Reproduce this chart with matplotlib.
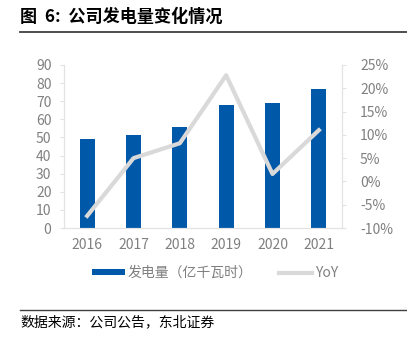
import matplotlib
matplotlib.use("Agg")
import matplotlib.pyplot as plt
from matplotlib.ticker import FuncFormatter

plt.rcParams['font.family'] = ['Noto Sans CJK SC', 'DejaVu Sans']

# 数据
years = ['2016', '2017', '2018', '2019', '2020', '2021']
power = [49, 51.4, 55.6, 68, 69, 77]          # 发电量（亿千瓦时）
yoy = [-7.4, 5.0, 8.2, 22.8, 1.6, 11.0]       # 同比 %

bar_color = '#0058A8'
line_color = '#D9D9D9'
axis_color = '#E3E3E3'
label_color = '#808080'

W, H = 407, 343
fig = plt.figure(figsize=(W / 100, H / 100), dpi=100)

# 标题与分隔线
fig.text(20 / W, 1 - 17 / H, '图  6:  公司发电量变化情况', fontsize=12.3,
         fontweight='bold', va='center', ha='left', color='black')
fig.add_artist(plt.Line2D([20 / W, 1], [1 - 32 / H, 1 - 32 / H],
                          color='#404040', lw=1.3))

ax = fig.add_axes([64 / W, 1 - 228 / H, (342 - 64) / W, (228 - 65) / H])
x = range(len(years))
bars = ax.bar(x, power, width=0.33, color=bar_color, label='发电量（亿千瓦时）', zorder=2)
ax.set_xlim(-0.5, 5.5)
ax.set_ylim(0, 90)
ax.set_yticks(range(0, 91, 10))
ax.set_xticks(list(x))
ax.set_xticklabels(years)

ax2 = ax.twinx()
line, = ax2.plot(x, yoy, color=line_color, lw=3, label='YoY', zorder=3)
ax2.set_ylim(-10, 25)
ax2.set_yticks(range(-10, 26, 5))
ax2.yaxis.set_major_formatter(FuncFormatter(lambda v, p: '%d%%' % v))

for a in (ax, ax2):
    a.spines['top'].set_visible(False)
    for s in ('left', 'right', 'bottom'):
        a.spines[s].set_color(axis_color)
        a.spines[s].set_linewidth(0.8)
    a.tick_params(axis='y', colors=axis_color, labelcolor=label_color,
                  labelsize=10, length=3, width=0.8)
    a.tick_params(axis='x', length=0, labelcolor=label_color, labelsize=10, pad=7)
ax.tick_params(axis='y', pad=6)
ax2.tick_params(axis='y', pad=10)

fig.legend([bars, line], ['发电量（亿千瓦时）', 'YoY'], loc='center',
           bbox_to_anchor=(215 / W, 1 - 273 / H), ncol=2, frameon=False,
           fontsize=10, handlelength=2.4, handleheight=0.35, handletextpad=0.2,
           columnspacing=1.9, labelcolor=label_color)

# 来源
fig.add_artist(plt.Line2D([20 / W, 1], [1 - 310 / H, 1 - 310 / H],
                          color='#404040', lw=1.0))
fig.text(20 / W, 1 - 322 / H, '数据来源：公司公告，东北证券', fontsize=10,
         va='center', ha='left', color='black')

fig.savefig('out.png', dpi=100)
